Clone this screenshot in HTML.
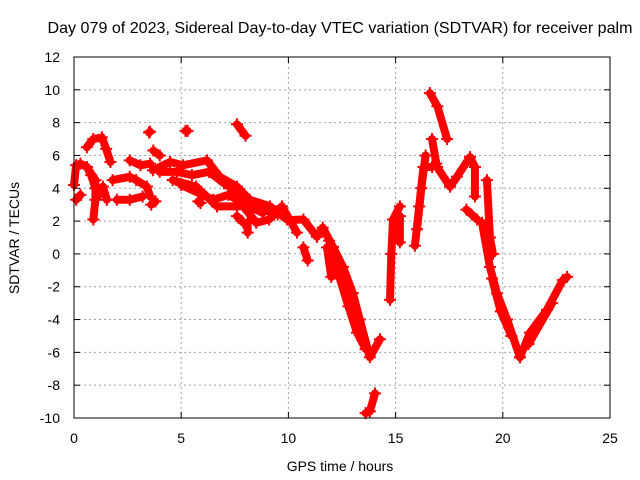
<!DOCTYPE html>
<html><head><meta charset="utf-8"><style>
body{margin:0;background:#fff}
svg{display:block;font-family:"Liberation Sans",sans-serif;font-size:14px}
</style></head><body>
<svg id="chart" width="640" height="480" viewBox="0 0 640 480">
<rect width="640" height="480" fill="#fff"/>
<text x="340" y="33" text-anchor="middle" style="font-size:16px" textLength="585" lengthAdjust="spacingAndGlyphs">Day 079 of 2023, Sidereal Day-to-day VTEC variation (SDTVAR) for receiver palm</text>
<g id="grid"></g>
<g id="series"></g>
<rect x="74" y="57" width="536" height="361" fill="none" stroke="#000" stroke-width="1"/>
<g id="ticks"></g>
<text x="340" y="471" text-anchor="middle">GPS time / hours</text>
<text transform="translate(19,238) rotate(-90)" text-anchor="middle">SDTVAR / TECUs</text>
</svg>
<script>
const xTicks=[0,5,10,15,20,25];
const yTicks=[-10,-8,-6,-4,-2,0,2,4,6,8,10,12];
const tracks=[
[[0,4.2],[0.1,5.4],[0.3,5.5],[0.6,5.3],[0.8,4.8],[1.0,4.0],[1.1,3.5]],
[[0.6,6.5],[0.9,7.0],[1.3,7.1],[1.5,6.4],[1.7,5.6]],
[[0.6,5.3],[1.0,4.5],[1.0,3.3],[0.9,2.1]],
[[0.1,3.3],[0.3,3.6]],
[[3.68,5.1],[4.48,5.6],[5.08,5.4],[6.2,5.7],[6.8,4.7],[7.6,4.1],[8.2,3.3],[9.14,2.9],[9.93,2.1],[10.07,2.07],[10.7,2.1],[11.33,1.04],[11.6,1.6],[12.08,0.43],[12.55,-0.79],[13.0,-2.38],[13.33,-4.0],[13.8,-6.3],[14.27,-5.2]],
[[4.0,5.0],[4.8,5.0],[5.5,4.8],[6.3,5.0],[7.0,4.3],[7.8,3.6],[8.6,2.8],[9.5,2.4]],
[[4.6,4.5],[5.7,4.1],[6.67,2.9],[7.9,2.9],[8.5,1.9],[9.1,2.1],[9.7,2.9],[10.4,1.3]],
[[5.0,4.2],[6.0,3.6],[6.5,3.3],[7.2,3.6],[8.0,3.0],[8.8,2.5]],
[[11.9,0.8],[12.4,-1.5],[12.8,-3.2],[13.2,-4.8],[13.6,-5.8]],
[[1.8,4.5],[2.6,4.7],[2.9,4.5],[3.4,4.1],[3.55,3.5]],
[[2.0,3.3],[2.6,3.3],[3.2,3.5]],
[[2.6,5.7],[3.1,5.4],[3.55,5.5]],
[[1.35,4.1],[1.53,3.3]],
[[3.6,3.0],[3.8,3.2]],
[[5.8,3.2],[5.9,3.1]],
[[7.6,2.3],[7.9,1.9]],
[[10.7,0.4],[10.9,-0.4]],
[[8.1,1.9],[8.1,1.3]],
[[3.7,6.3],[4.0,6.0]],
[[3.5,7.4],[3.55,7.45]],
[[5.2,7.5],[5.3,7.5]],
[[7.6,7.9],[8.0,7.2]],
[[11.8,0.4],[12.0,-1.4]],
[[13.6,-9.7],[13.8,-9.6],[14.04,-8.5]],
[[14.74,-2.8],[14.8,0],[14.88,2.1],[15.2,2.9]],
[[15.2,0.7],[15.2,2.3]],
[[15.9,0.5],[16.1,2.9],[16.3,5.3],[16.7,5.3]],
[[16.0,1.5],[16.2,4.0],[16.4,6.0]],
[[16.6,9.8],[16.95,9.0],[17.4,7.0]],
[[16.7,7.0],[16.9,5.5]],
[[16.93,5.3],[17.54,4.1],[17.86,4.7],[18.47,5.9],[18.7,5.3],[18.7,3.5]],
[[18.3,2.7],[18.8,2.1]],
[[19.03,1.9],[19.4,-0.8],[19.73,-2.4],[20.2,-4.0],[20.8,-6.3]],
[[19.5,-1.5],[19.9,-3.5],[20.4,-5.0]],
[[19.26,4.5],[19.4,1.0],[19.54,0]],
[[20.8,-6.3],[21.27,-4.8],[22.06,-3.4],[22.8,-1.6],[23.0,-1.4]],
[[21.2,-5.5],[22.3,-3.0]]
];
const NS='http://www.w3.org/2000/svg';
const X0=74,X1=610,Y0=418,Y1=57,xmin=0,xmax=25,ymin=-10,ymax=12;
function sx(t){return X0+(t-xmin)/(xmax-xmin)*(X1-X0);}
function sy(v){return Y0-(v-ymin)/(ymax-ymin)*(Y0-Y1);}
function mk(tag,attrs,parent){const e=document.createElementNS(NS,tag);for(const k in attrs)e.setAttribute(k,attrs[k]);parent.appendChild(e);return e;}
const grid=document.getElementById('grid'),ticks=document.getElementById('ticks'),ser=document.getElementById('series');
xTicks.forEach(t=>{const x=sx(t);
 if(t>xmin&&t<xmax){const g=mk('line',{x1:x,x2:x,y1:Y1,y2:Y0,stroke:'#a0a0a0','stroke-dasharray':'2,3'},grid);
 
 }
 mk('line',{x1:x,x2:x,y1:Y0,y2:Y0-6,stroke:'#000'},ticks);
 mk('line',{x1:x,x2:x,y1:Y1,y2:Y1+6,stroke:'#000'},ticks);
 const l=mk('text',{x:x,y:443,'text-anchor':'middle'},ticks);l.textContent=t;
 
 
});
yTicks.forEach(v=>{const y=sy(v);
 if(v>ymin&&v<ymax){const g=mk('line',{x1:X0,x2:X1,y1:y,y2:y,stroke:'#a0a0a0','stroke-dasharray':'2,3'},grid);
 
 }
 mk('line',{x1:X0,x2:X0+6,y1:y,y2:y,stroke:'#000'},ticks);
 mk('line',{x1:X1,x2:X1-6,y1:y,y2:y,stroke:'#000'},ticks);
 const l=mk('text',{x:60,y:y+5,'text-anchor':'end'},ticks);l.textContent=v;
 
 
});
tracks.forEach(tr=>{
 const pts=tr.map(p=>sx(p[0])+','+sy(p[1])).join(' ');
 const pl=mk('polyline',{points:pts,fill:'none',stroke:'#ff0000','stroke-width':8,'stroke-linejoin':'round','stroke-linecap':'round'},ser);
 
 
 tr.forEach(p=>{const x=sx(p[0]),y=sy(p[1]);
  const m=mk('path',{d:`M${x-6},${y}H${x+6}M${x},${y-6}V${y+6}`,stroke:'#ff0000','stroke-width':2},ser);
  
  
 });
});
</script>
</body></html>
